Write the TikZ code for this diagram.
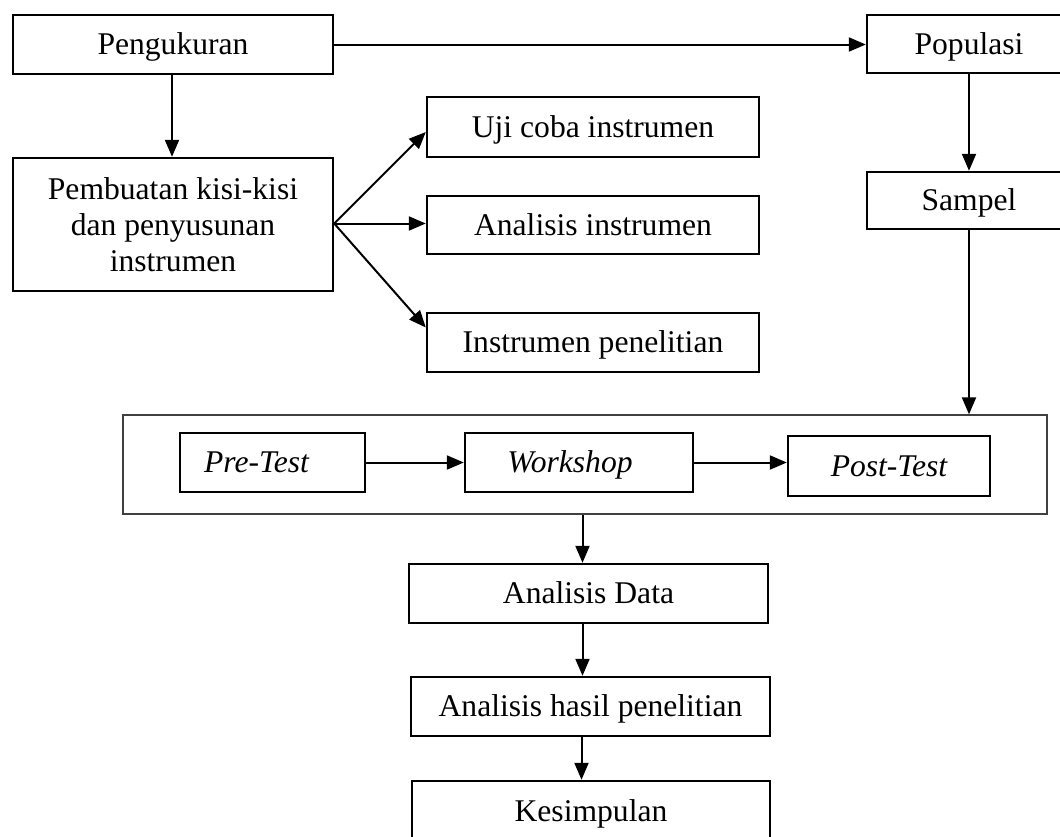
\documentclass[tikz,border=0pt]{standalone}
\usepackage{fontspec}
\setmainfont{Liberation Serif}
\usetikzlibrary{arrows.meta}
\tikzset{
  box/.style={draw=black, line width=2.4pt, rectangle, inner sep=0pt, align=center,
    font=\fontsize{31.6}{36}\selectfont},
  oneline/.style={box, text height=26pt, text depth=6pt},
  outerbox/.style={draw=black!75, line width=1.3pt, rectangle, inner sep=0pt},
  arr/.style={line width=2pt, -{Triangle[length=17pt,width=14pt]}}
}
\begin{document}
\begin{tikzpicture}[x=1pt,y=-1pt]
\useasboundingbox[fill=white] (0,0) rectangle (1060,836);
% top row
\node[oneline, minimum width=320pt, minimum height=59pt] (peng) at (173,44.5) {Pengukuran};
\node[oneline, minimum width=204pt, minimum height=58pt] (pop) at (969,44) {Populasi};
\node[oneline, minimum width=204pt, minimum height=57pt] (samp) at (969,200.5) {Sampel};
\node[box, minimum width=320pt, minimum height=133pt] (pemb) at (173,224.5) {Pembuatan kisi-kisi\\dan penyusunan\\instrumen};
\node[oneline, minimum width=332pt, minimum height=60pt] (uji) at (593,127) {Uji coba instrumen};
\node[oneline, minimum width=332pt, minimum height=58pt] (anin) at (593,225) {Analisis instrumen};
\node[oneline, minimum width=332pt, minimum height=59pt] (inpen) at (593,342.5) {Instrumen penelitian};
% container
\node[outerbox, minimum width=924pt, minimum height=99pt] (outer) at (585,464.5) {};
\node[oneline, minimum width=185pt, minimum height=59pt] (pre) at (272.5,462.5) {\itshape Pre-Test\hspace*{32pt}};
\node[oneline, minimum width=228pt, minimum height=59pt] (work) at (579,462.5) {\itshape Workshop\hspace*{18pt}};
\node[oneline, minimum width=202pt, minimum height=60pt] (post) at (889,466) {\itshape Post-Test};
% bottom column
\node[oneline, minimum width=359pt, minimum height=59pt] (andata) at (588.5,593.5) {Analisis Data};
\node[oneline, minimum width=359pt, minimum height=59pt] (anhas) at (590.5,706.5) {Analisis hasil penelitian};
\node[oneline, minimum width=358pt, minimum height=61pt] (kes) at (591,811.5) {Kesimpulan};
% connectors
\draw[arr] (peng.east) -- (pop.west |- peng.east);
\draw[arr] ([xshift=-1pt]peng.south) -- ([xshift=-1pt]pemb.north);
\draw[arr] (pop.south) -- (samp.north);
\draw[arr] (samp.south) -- (samp.south |- outer.north);
\draw[arr] ([yshift=1pt]pemb.east) -- ([yshift=-5pt]uji.west);
\draw[arr] ([yshift=1pt]pemb.east) -- ([yshift=1pt]anin.west |- pemb.east);
\draw[arr] ([yshift=1pt]pemb.east) -- ([yshift=15pt]inpen.west);
\draw[arr] (pre.east) -- (work.west);
\draw[arr] (work.east) -- (post.west |- work.east);
\draw[arr] ([xshift=-6pt]andata.north |- outer.south) -- ([xshift=-6pt]andata.north);
\draw[arr] ([xshift=-6pt]andata.south) -- ([xshift=-6pt]andata.south |- anhas.north);
\draw[arr] ([xshift=-9pt]anhas.south) -- ([xshift=-9pt]anhas.south |- kes.north);
\end{tikzpicture}
\end{document}
